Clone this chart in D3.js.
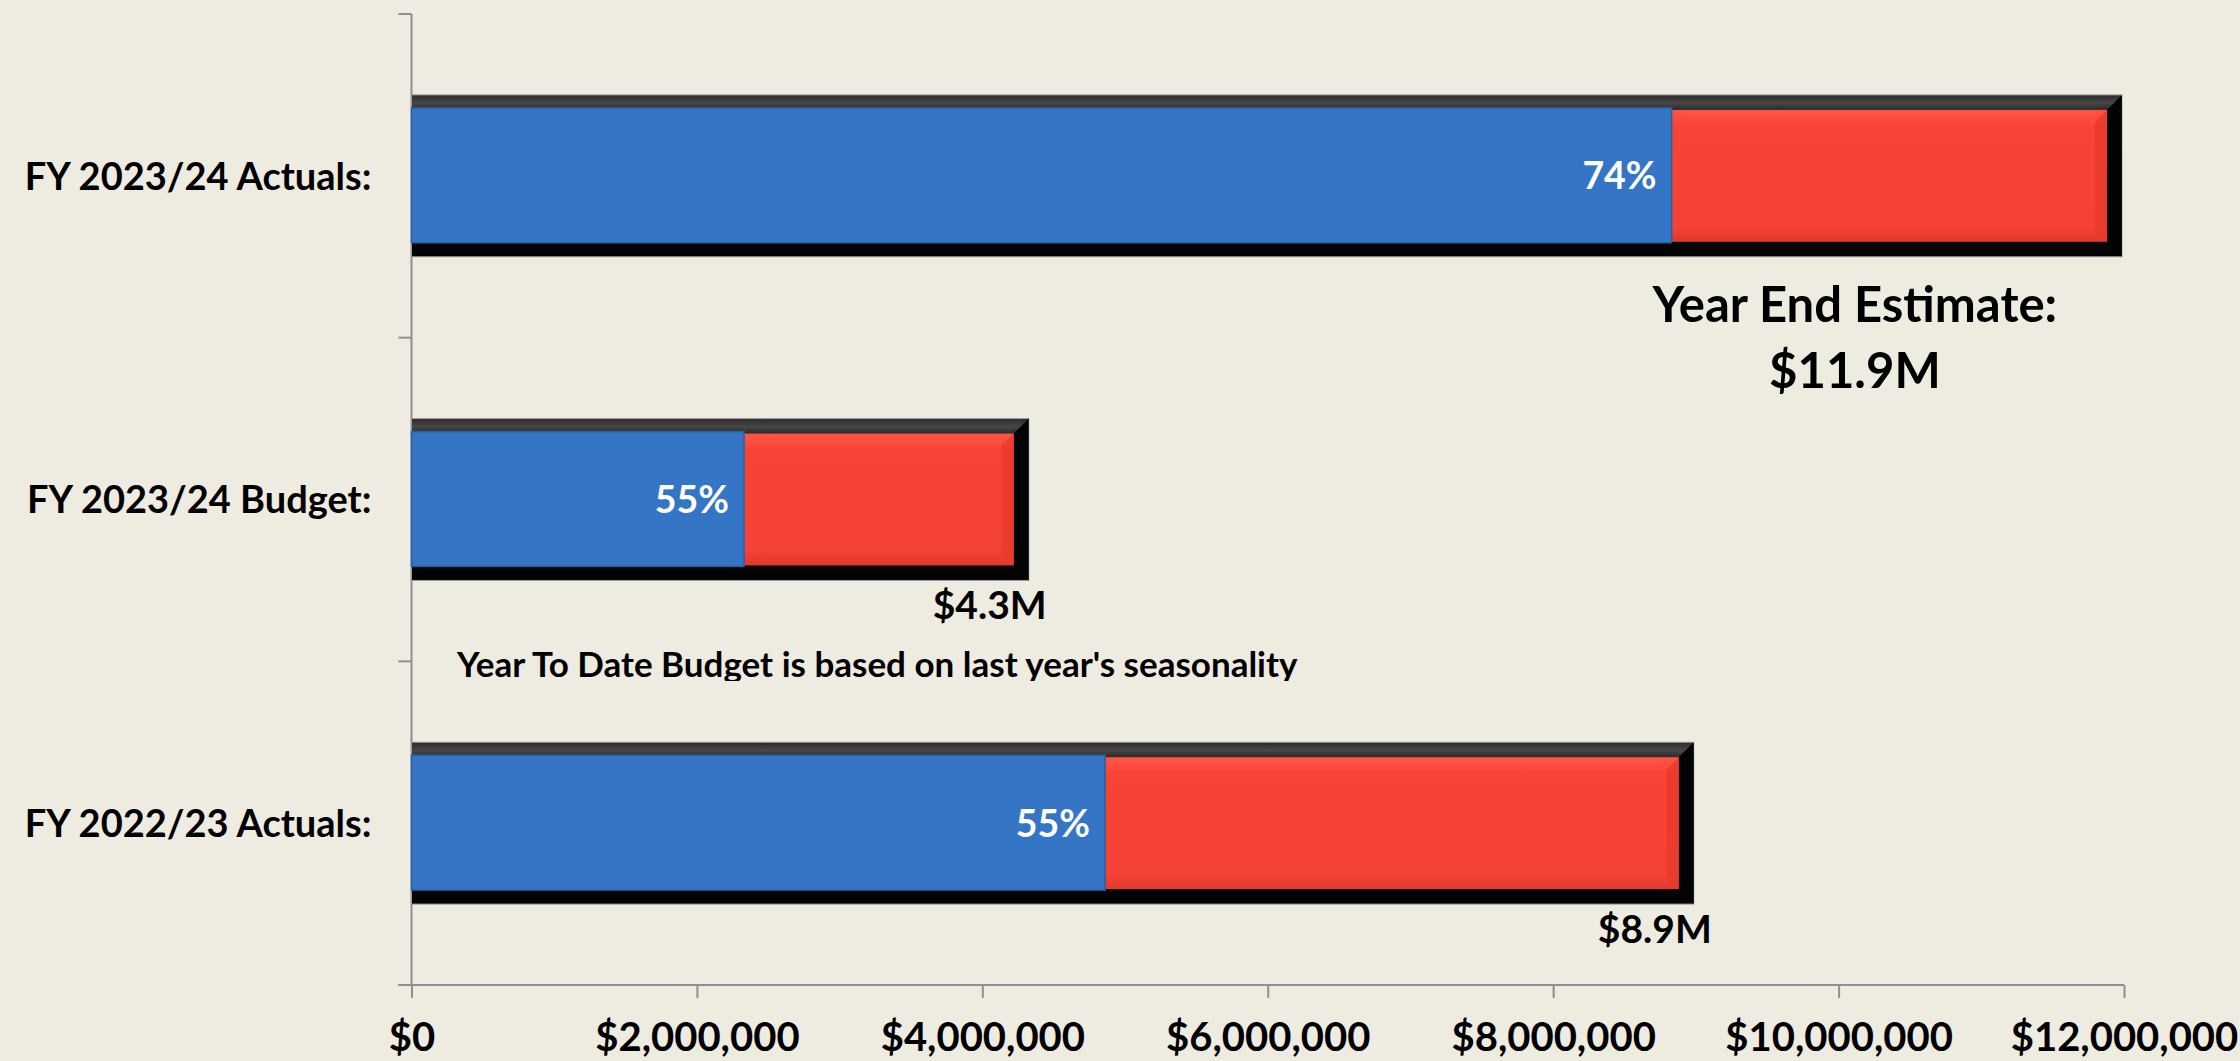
<!DOCTYPE html>
<html>
<head>
<meta charset="utf-8">
<script src="https://cdn.jsdelivr.net/npm/d3@7"></script>
<style>
  body { margin: 0; background: #eeebe0; }
  svg { display: block; }
  text { font-family: Lato, "Open Sans", sans-serif; font-weight: bold; }
</style>
</head>
<body>
<script>
// chart data
let categories = ["FY 2023/24 Actuals:", "FY 2023/24 Budget:", "FY 2022/23 Actuals:"];
let yearToDate = [8830000, 2330000, 4860000];
let totals = [11880000, 4220000, 8880000];
let percentLabels = ["74%", "55%", "55%"];
let totalLabels = ["$11.9M", "$4.3M", "$8.9M"];
let xTicks = [0, 2000000, 4000000, 6000000, 8000000, 10000000, 12000000];
let note = "Year To Date Budget is based on last year's seasonality";


/**
 * Builds the whole chart once the page is loaded.
 */
window.onload = function() {
    let w = 2240;
    let h = 1061;
    let plot = {left: 411.5, right: 2124, top: 14, bottom: 985};

    let svg = d3.select("body")
                .append("svg")
                .attr("width", w)
                .attr("height", h);

    let rows = categories.map(function(c, i) {
        return {name: c, ytd: yearToDate[i], total: totals[i],
                pct: percentLabels[i], label: totalLabels[i]};
    });

    // scales
    let x = d3.scaleLinear()
              .domain([0, 12000000])
              .range([plot.left, plot.right]);

    let y = d3.scaleBand()
              .domain(categories)
              .range([plot.top, plot.bottom])
              .paddingInner(0.5)
              .paddingOuter(0.25);

    makeGradients(svg);

    // axes
    let xAxis = d3.axisBottom(x)
                  .tickValues(xTicks)
                  .tickSize(13)
                  .tickPadding(25)
                  .tickFormat(function(d) { return "$" + d3.format(",")(d); });

    let gx = svg.append("g")
                .attr("transform", "translate(0," + plot.bottom + ")")
                .call(xAxis);
    gx.select(".domain").remove();
    gx.append("line")
      .attr("x1", plot.left - 13).attr("x2", plot.right)
      .attr("stroke", "#8f8f8f").attr("stroke-width", 2);
    gx.selectAll(".tick line").attr("stroke", "#8f8f8f").attr("stroke-width", 2);
    gx.selectAll(".tick text")
      .attr("fill", "#000")
      .style("font-size", "40px")
      .style("font-family", "Lato, sans-serif")
      .style("font-weight", "bold");

    // y axis: line plus ticks on the band boundaries
    let bounds = d3.range(categories.length + 1).map(function(i) {
        return plot.top + i * (plot.bottom - plot.top) / categories.length;
    });
    let gy = svg.append("g");
    gy.append("line")
      .attr("x1", plot.left).attr("x2", plot.left)
      .attr("y1", plot.top).attr("y2", plot.bottom)
      .attr("stroke", "#8f8f8f").attr("stroke-width", 2);
    gy.selectAll(".ytick")
      .data(bounds)
      .enter()
      .append("line")
      .attr("x1", plot.left - 13).attr("x2", plot.left)
      .attr("y1", function(d) { return d; })
      .attr("y2", function(d) { return d; })
      .attr("stroke", "#8f8f8f").attr("stroke-width", 2);

    gy.selectAll(".ylabel")
      .data(categories)
      .enter()
      .append("text")
      .attr("x", plot.left - 40)
      .attr("y", function(d) { return y(d) + y.bandwidth() / 2; })
      .attr("dy", "0.36em")
      .attr("text-anchor", "end")
      .style("font-size", "38px")
      .text(function(d) { return d; });

    // bars
    let bars = svg.append("g")
                  .selectAll("g")
                  .data(rows)
                  .enter()
                  .append("g");

    // black bevelled frame behind each bar
    bars.append("rect")
        .attr("x", x(0))
        .attr("y", function(d) { return y(d.name); })
        .attr("width", function(d) { return x(d.total) - x(0) + 15; })
        .attr("height", y.bandwidth())
        .attr("fill", "url(#frameGrad)")
        .attr("stroke", "#9a9a9a")
        .attr("stroke-width", 1);

    // bevel corners on the right of the frame
    bars.append("path")
        .attr("d", function(d) {
            let x1 = x(d.total) + 15, y0 = y(d.name);
            return "M" + (x1 - 15) + "," + (y0 + 15) + "L" + x1 + "," + y0 +
                   "L" + x1 + "," + (y0 + y.bandwidth()) + "L" + (x1 - 15) + "," +
                   (y0 + y.bandwidth() - 14) + "Z";
        })
        .attr("fill", "#030303");

    // remaining (red) part
    bars.append("rect")
        .attr("x", function(d) { return x(d.ytd); })
        .attr("y", function(d) { return y(d.name) + 15; })
        .attr("width", function(d) { return x(d.total) - x(d.ytd); })
        .attr("height", y.bandwidth() - 30)
        .attr("fill", "url(#redGrad)");
    bars.append("path")
        .attr("d", function(d) {
            let x1 = x(d.total), y0 = y(d.name) + 15, y1 = y(d.name) + y.bandwidth() - 15;
            return "M" + x1 + "," + y0 + "L" + (x1 - 12) + "," + (y0 + 12) +
                   "L" + (x1 - 12) + "," + (y1 - 10) + "L" + x1 + "," + y1 + "Z";
        })
        .attr("fill", "#e8392c")
        .attr("opacity", 0.8);

    // year to date (blue) part
    bars.append("rect")
        .attr("x", x(0))
        .attr("y", function(d) { return y(d.name) + 13; })
        .attr("width", function(d) { return x(d.ytd) - x(0); })
        .attr("height", y.bandwidth() - 27)
        .attr("fill", "#3476c5")
        .attr("stroke", "#2a5f9e")
        .attr("stroke-width", 1.5);

    // percentage labels
    bars.append("text")
        .attr("x", function(d) { return x(d.ytd) - 15; })
        .attr("y", function(d) { return y(d.name) + y.bandwidth() / 2; })
        .attr("dy", "0.36em")
        .attr("text-anchor", "end")
        .attr("fill", "#fff")
        .style("font-size", "37.5px")
        .text(function(d) { return d.pct; });

    // total labels under the bars, the first one is the year end estimate
    bars.filter(function(d, i) { return i > 0; })
        .append("text")
        .attr("x", function(d) { return x(d.total) + 33; })
        .attr("y", function(d) { return y(d.name) + y.bandwidth() + 39; })
        .attr("text-anchor", "end")
        .style("font-size", "39px")
        .text(function(d) { return d.label; });

    let first = rows[0];
    let est = svg.append("text")
                 .attr("x", x(first.total) - 252)
                 .attr("y", y(first.name) + y.bandwidth() + 65)
                 .attr("text-anchor", "middle")
                 .style("font-size", "49px");
    est.append("tspan").text("Year End Estimate:");
    est.append("tspan")
       .attr("x", x(first.total) - 252)
       .attr("dy", 66)
       .text(first.label);

    // footnote, cut off at the bottom like in the original
    svg.append("clipPath")
       .attr("id", "noteClip")
       .append("rect")
       .attr("x", 0).attr("y", 600)
       .attr("width", w).attr("height", 81);
    svg.append("text")
       .attr("x", 457)
       .attr("y", 677)
       .attr("clip-path", "url(#noteClip)")
       .style("font-size", "35px")
       .text(note);
};


/**
 * Adds the gradients used by the bar frames and red segments.
 */
function makeGradients(svg) {
    let defs = svg.append("defs");

    let frame = defs.append("linearGradient")
                    .attr("id", "frameGrad")
                    .attr("x1", 0).attr("y1", 0).attr("x2", 0).attr("y2", 1);
    frame.append("stop").attr("offset", "0%").attr("stop-color", "#2a2a2a");
    frame.append("stop").attr("offset", "5%").attr("stop-color", "#474747");
    frame.append("stop").attr("offset", "9%").attr("stop-color", "#2c2c2c");
    frame.append("stop").attr("offset", "50%").attr("stop-color", "#151515");
    frame.append("stop").attr("offset", "100%").attr("stop-color", "#020202");

    let red = defs.append("linearGradient")
                  .attr("id", "redGrad")
                  .attr("x1", 0).attr("y1", 0).attr("x2", 0).attr("y2", 1);
    red.append("stop").attr("offset", "0%").attr("stop-color", "#ff5646");
    red.append("stop").attr("offset", "12%").attr("stop-color", "#f84436");
    red.append("stop").attr("offset", "88%").attr("stop-color", "#f64236");
    red.append("stop").attr("offset", "100%").attr("stop-color", "#e1392c");
}
</script>
</body>
</html>
